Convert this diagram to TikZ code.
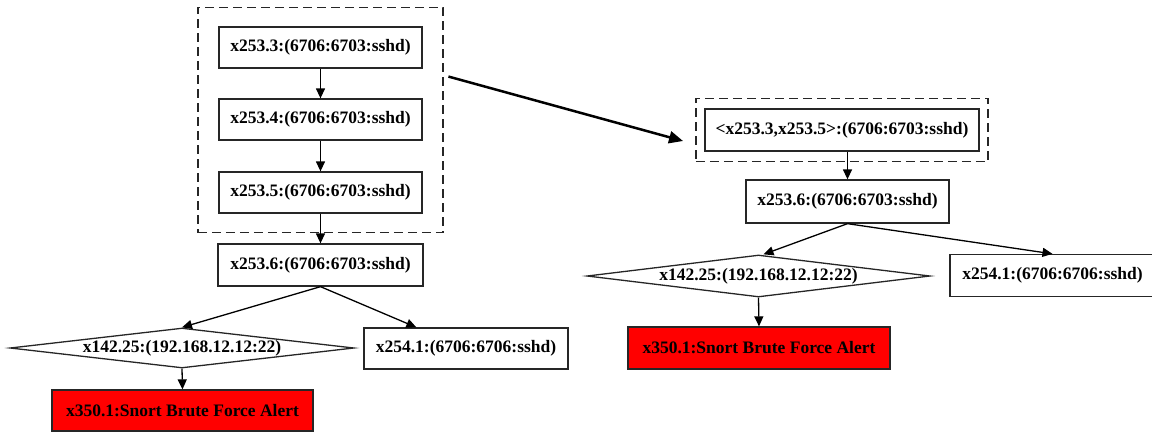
\documentclass[tikz,border=0pt]{standalone}
\usepackage{fontspec}
\setmainfont{Liberation Serif}
\usetikzlibrary{arrows.meta,shapes.geometric,fit,calc}
\begin{document}
\begin{tikzpicture}[x=1bp,y=-1bp,
  lbl/.style={font=\fontsize{17.5bp}{20bp}\selectfont\bfseries, inner sep=0pt},
  proc/.style={lbl, draw=black!85, line width=1.3bp, rectangle,
    minimum width=203bp, minimum height=41bp},
  alert/.style={proc, fill=red, minimum width=261bp},
  host/.style={lbl, draw=black!85, line width=1.3bp, diamond, aspect=8.6,
    minimum width=344bp, minimum height=40bp},
  group/.style={draw=black!85, line width=1.6bp, dash pattern=on 9bp off 5bp},
  link/.style={draw=black, line width=1.3bp, -{Triangle[length=10bp,width=9bp]}},
  merge/.style={draw=black, line width=2.5bp, -{Triangle[length=14bp,width=12bp]}}]
\useasboundingbox (0,0) rectangle (1152,432);

% ---- original chain ----
\node[proc] (a3) at (320.5,47.5) {x253.3:(6706:6703:sshd)};
\node[proc] (a4) at (320.5,119.5) {x253.4:(6706:6703:sshd)};
\node[proc] (a5) at (320.5,192.5) {x253.5:(6706:6703:sshd)};
\node[group, fit=(a3)(a5), inner xsep=20.5bp, inner ysep=19bp] (L) {};
\node[proc, minimum width=205bp, minimum height=42bp] (a6) at (320.5,265) {x253.6:(6706:6703:sshd)};
\node[host] (ad) at (182,348) {x142.25:(192.168.12.12:22)};
\node[proc, minimum width=204bp] (a41) at (466,348.5) {x254.1:(6706:6706:sshd)};
\node[alert] (ar) at (182.5,410.5) {x350.1:Snort Brute Force Alert};

\draw[link] (a3) -- (a4);
\draw[link] (a4) -- (a5);
\draw[link] (a5) -- (a6);
\draw[link] (a6.south) -- (ad.north);
\draw[link] (a6.south) -- ([xshift=53bp]a41.north west);
\draw[link] (ad.south) -- (ar.north);

% ---- merged chain ----
\node[proc, minimum width=274bp, minimum height=42bp] (b35) at (842,130) {<x253.3,x253.5>:(6706:6703:sshd)};
\node[group, fit=(b35), inner xsep=8.5bp, inner ysep=10bp] (R) {};
\node[proc, minimum height=43bp] (b6) at (847.5,201.5) {x253.6:(6706:6703:sshd)};
\node[host, minimum width=343bp, minimum height=42bp] (bd) at (758.5,276) {x142.25:(192.168.12.12:22)};
\node[proc, minimum width=205bp, minimum height=42bp] (b41) at (1052.5,275.5) {x254.1:(6706:6706:sshd)};
\node[alert, minimum width=262bp, minimum height=42bp] (br) at (759,348) {x350.1:Snort Brute Force Alert};

\draw[link] (b6.north |- b35.south) -- (b6.north);
\draw[link] (b6.south) -- ([xshift=5bp]bd.north);
\draw[link] (b6.south) -- (b41.north);
\draw[link] (bd.south) -- (br.north);

% ---- merge arrow between the groups ----
\coordinate (mS) at ($(L.north east)+(4.5,70)$);
\coordinate (mE) at ($(R.west)+(-12,11)$);
\draw[merge] (mS) -- (mE);
\end{tikzpicture}
\end{document}
